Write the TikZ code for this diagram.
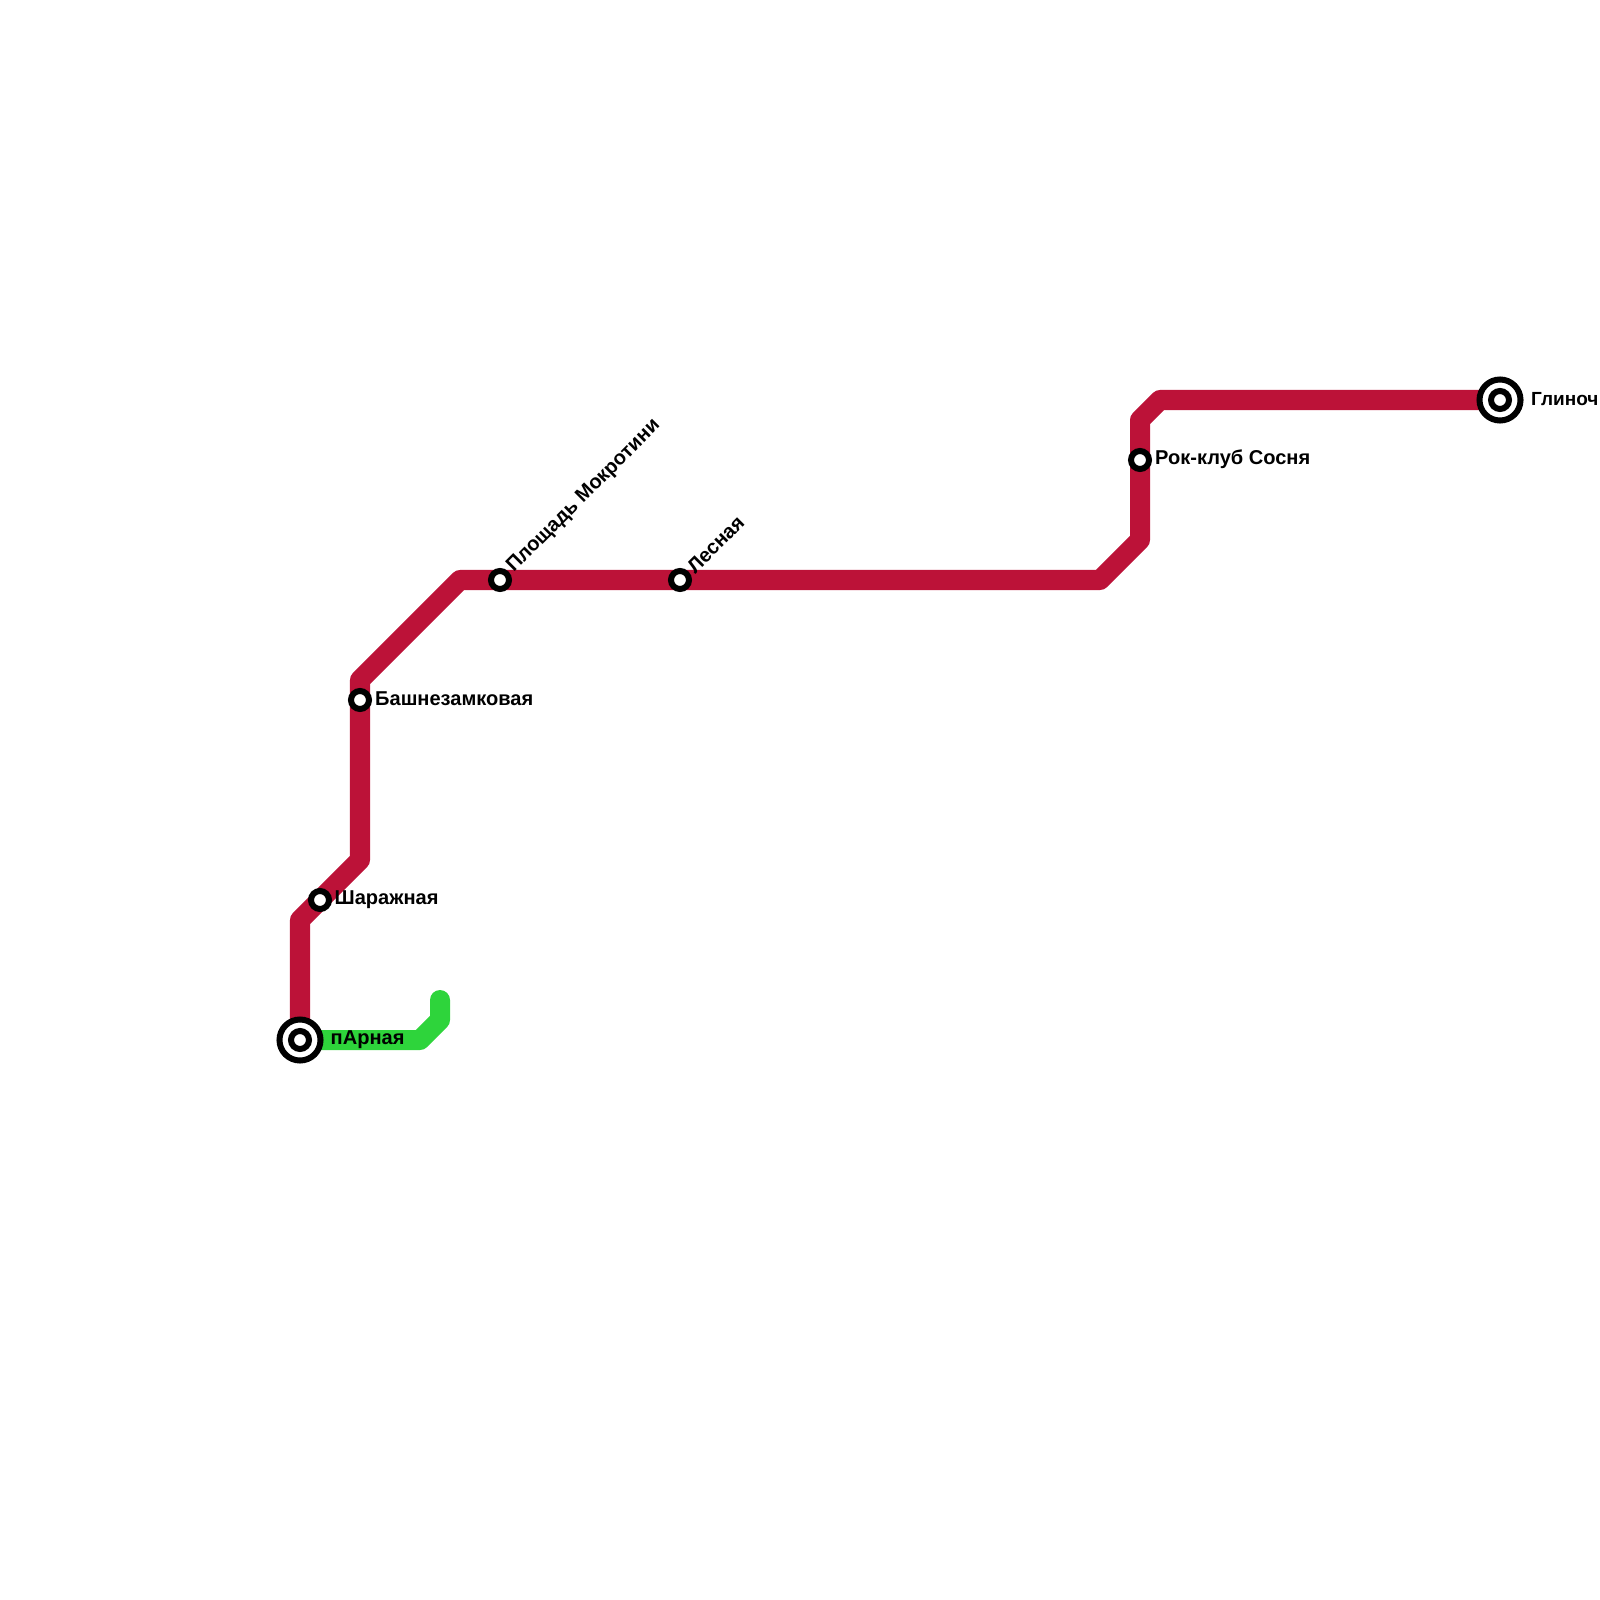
\documentclass[tikz,border=0pt]{standalone}
\usepackage{fontspec}
\setmainfont{Liberation Sans}
\usepackage{xcolor}
\definecolor{lineRed}{HTML}{BC1238}
\definecolor{lineGreen}{HTML}{2ED43B}
\tikzset{
  redline/.style={draw=lineRed, line width=0.2cm, line join=round, line cap=round},
  greenline/.style={draw=lineGreen, line width=0.2cm, line join=round, line cap=round},
  stationdot/.style={circle, draw=black, fill=white, line width=0.06cm, minimum size=0.18cm, inner sep=0pt, outer sep=0pt},
  stationterm/.style={circle, draw=black, fill=white, line width=0.06cm, minimum size=0.41cm, inner sep=0pt, outer sep=0pt},
  stationlabel/.style={font=\bfseries\fontsize{5.7pt}{6pt}\selectfont, text=black, inner sep=0pt, anchor=west}
}
\begin{document}
\begin{tikzpicture}[x=0.01cm, y=-0.01cm]
\useasboundingbox (0,0) rectangle (1600,1600);
% stations
\coordinate (parnaya) at (300,1040);
\coordinate (sharazhnaya) at (320,900);
\coordinate (bashnya) at (360,700);
\coordinate (ploshchad) at (500,580);
\coordinate (lesnaya) at (680,580);
\coordinate (rokklub) at (1140,460);
\coordinate (glinoch) at (1500,400);
% bends
\coordinate (r1) at (300,920);
\coordinate (r2) at (360,860);
\coordinate (r3) at (360,680);
\coordinate (r4) at (460,580);
\coordinate (r5) at (1100,580);
\coordinate (r6) at (1140,540);
\coordinate (r7) at (1140,420);
\coordinate (r8) at (1160,400);
\coordinate (g1) at (420,1040);
\coordinate (g2) at (440,1020);
\coordinate (g3) at (440,1000);
% lines
\draw[greenline] (parnaya) -- (g1) -- (g2) -- (g3);
\draw[redline] (parnaya) -- (r1) -- (r2) -- (r3) -- (r4) -- (r5) -- (r6) -- (r7) -- (r8) -- (glinoch);
% station marks
\node[stationterm] (parnayaOut) at (parnaya) {};
\node[stationdot] (parnayaIn) at (parnaya) {};
\node[stationdot] (sharazhnayaDot) at (sharazhnaya) {};
\node[stationdot] (bashnyaDot) at (bashnya) {};
\node[stationdot] (ploshchadDot) at (ploshchad) {};
\node[stationdot] (lesnayaDot) at (lesnaya) {};
\node[stationdot] (rokklubDot) at (rokklub) {};
\node[stationterm] (glinochOut) at (glinoch) {};
\node[stationdot] (glinochIn) at (glinoch) {};
% labels
\node[stationlabel] (parnayaText) at (330,1040) {пАрная};
\node[stationlabel] (sharazhnayaText) at (334,900) {Шаражная};
\node[stationlabel] (bashnyaText) at (374.5,699) {Башнезамковая};
\node[stationlabel, rotate=45] (ploshchadText) at (510,570) {Площадь Мокротини};
\node[stationlabel, rotate=45] (lesnayaText) at (690,570) {Лесная};
\node[stationlabel] (rokklubText) at (1154.5,459) {Рок-клуб Сосня};
\node[stationlabel, font=\bfseries\fontsize{5.4pt}{6pt}\selectfont] (glinochText) at (1530.5,399) {Глиноч};
\end{tikzpicture}
\end{document}
